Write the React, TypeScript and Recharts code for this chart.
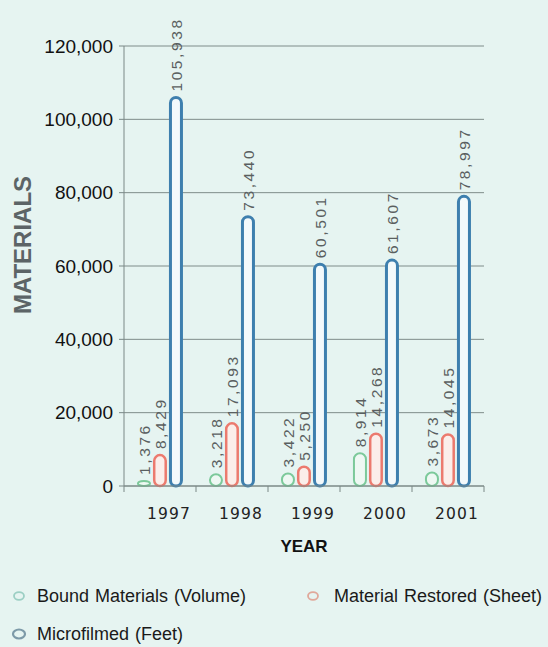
import React from "react";
import { BarChart, Bar, XAxis, YAxis, CartesianGrid, LabelList } from "recharts";

const years = ["1997", "1998", "1999", "2000", "2001"];
const bound = [1376, 3218, 3422, 8914, 3673];
const restored = [8429, 17093, 5250, 14268, 14045];
const microfilmed = [105938, 73440, 60501, 61607, 78997];
const yTicks = [0, 20000, 40000, 60000, 80000, 100000, 120000];

const data = years.map((year, i) => ({
  year,
  bound: bound[i],
  restored: restored[i],
  microfilmed: microfilmed[i],
}));

const series = [
  { key: "bound", name: "Bound Materials (Volume)", stroke: "#7cc99a", fill: "#eef8f3", icon: "#9ccfc4", sw: 2 },
  { key: "restored", name: "Material Restored (Sheet)", stroke: "#ec7a6e", fill: "#fbeeea", icon: "#e0a89a", sw: 2.5 },
  { key: "microfilmed", name: "Microfilmed (Feet)", stroke: "#3e7fae", fill: "#f3f9fb", icon: "#7d9aa8", sw: 3 },
];

const FONT = "Liberation Sans, Arial, sans-serif";
const fmt = (v: number) => v.toLocaleString("en-US");

const Capsule = (stroke: string, fill: string, sw: number) => (props: any) => {
  const { x, y, width, height } = props;
  if (width == null || height == null) return null;
  const h = Math.max(height, 4);
  const top = y + height - h;
  return (
    <rect
      x={x + sw / 2}
      y={top}
      width={width - sw}
      height={h}
      rx={(width - sw) / 2}
      ry={Math.min((width - sw) / 2, h / 2)}
      fill={fill}
      stroke={stroke}
      strokeWidth={sw}
    />
  );
};

const ValueLabel = (props: any) => {
  const { x, y, width, value } = props;
  const cx = x + width / 2 + 6;
  const cy = y - 6;
  return (
    <text
      x={cx}
      y={cy}
      transform={`rotate(-90 ${cx} ${cy})`}
      textAnchor="start"
      fontSize={15.5}
      letterSpacing={2.6}
      fill="#5a5f60"
      fontFamily={FONT}
    >
      {fmt(value)}
    </text>
  );
};

const YearTick = (props: any) => {
  const { x, y, payload, index } = props;
  const half = payload && payload.offset ? payload.offset : 36;
  return (
    <g>
      <line x1={x - half} y1={y - 8} x2={x - half} y2={y - 2} stroke="#7a8886" />
      {index === years.length - 1 && (
        <line x1={x + half} y1={y - 8} x2={x + half} y2={y - 2} stroke="#7a8886" />
      )}
      <text x={x + 9} y={y + 25} textAnchor="middle" fontSize={15.5} letterSpacing={1.2} fill="#222" fontFamily="DejaVu Sans, sans-serif">
        {payload.value}
      </text>
    </g>
  );
};

const MaterialsLabel = (props: any) => {
  const { viewBox } = props;
  const cx = viewBox.x + 31;
  const cy = viewBox.y + viewBox.height / 2 - 21;
  return (
    <text
      x={cx}
      y={cy}
      transform={`rotate(-90 ${cx} ${cy})`}
      textAnchor="middle"
      fontSize={24}
      fontWeight="bold"
      fill="#5c6466"
      fontFamily={FONT}
    >
      MATERIALS
    </text>
  );
};

const LegendBlock = () => (
  <div style={{ position: "absolute", left: 0, top: 0, width: 548, height: 647, fontFamily: FONT, fontSize: 18, lineHeight: "20px", color: "#1a1a1a", wordSpacing: 1 }}>
    {series.map((s, i) => {
      const cx = i === 1 ? 313 : 19;
      const cy = i === 2 ? 634 : 596;
      const big = i === 2;
      return (
        <div key={s.key} style={{ position: "absolute", left: cx - 8, top: cy - 10, display: "flex", alignItems: "center", whiteSpace: "nowrap" }}>
          <svg width={16} height={16} style={{ marginRight: i === 1 ? 13 : 10 }}>
            <ellipse cx={8} cy={8} rx={big ? 6 : 5} ry={big ? 4.5 : 3.8} fill="none" stroke={s.icon} strokeWidth={big ? 2.2 : 1.8} />
          </svg>
          <span>{s.name}</span>
        </div>
      );
    })}
  </div>
);

export default function App() {
  return (
    <div style={{ position: "absolute", left: 0, top: 0, width: 548, height: 647, background: "#e6f4f1", fontFamily: FONT }}>
      <BarChart
        width={548}
        height={647}
        data={data}
        margin={{ top: 46, right: 64, bottom: 101, left: 0 }}
        barCategoryGap="18%"
        barGap={2}
        style={{ fontFamily: FONT }}
      >
        <CartesianGrid vertical={false} stroke="#7f8c8a" strokeWidth={1} />
        <XAxis
          dataKey="year"
          axisLine={{ stroke: "#7a8886" }}
          tickLine={false}
          tick={<YearTick />}
          interval={0}
          height={60}
          label={{ value: "YEAR", position: "insideBottom", offset: -6, fontSize: 17, fontWeight: "bold", fill: "#111", fontFamily: FONT }}
        />
        <YAxis
          width={124}
          domain={[0, 120000]}
          ticks={yTicks}
          tickFormatter={fmt}
          axisLine={{ stroke: "#7a8886" }}
          tickLine={{ stroke: "#7a8886" }}
          tickSize={5}
          tickMargin={6}
          tick={{ fontSize: 19, fill: "#111", fontFamily: FONT }}
          label={<MaterialsLabel />}
        />
        {series.map((s) => (
          <Bar key={s.key} dataKey={s.key} name={s.name} isAnimationActive={false} shape={Capsule(s.stroke, s.fill, s.sw)}>
            <LabelList dataKey={s.key} content={<ValueLabel />} />
          </Bar>
        ))}
      </BarChart>
      <LegendBlock />
    </div>
  );
}
